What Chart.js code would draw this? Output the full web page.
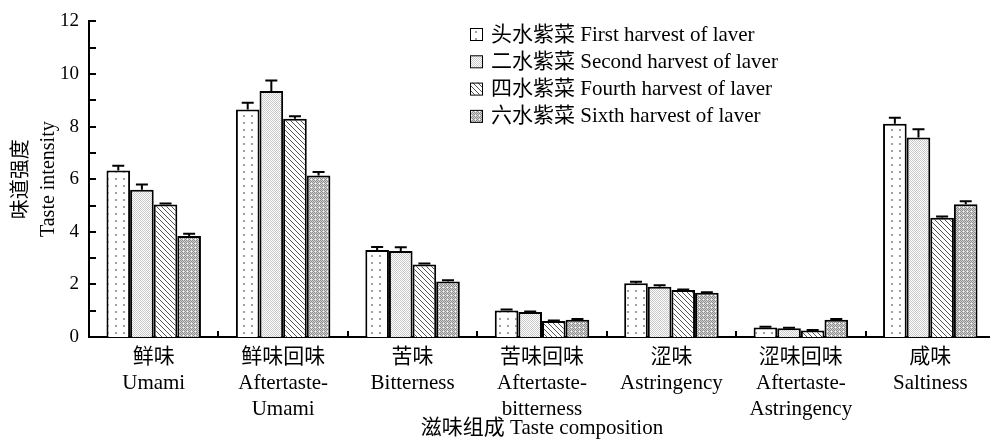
<!DOCTYPE html>
<html>
<head>
<meta charset="utf-8">
<script src="https://cdn.jsdelivr.net/npm/chart.js@4/dist/chart.umd.min.js"></script>
<style>
  html, body { margin: 0; padding: 0; background: #fff; overflow: hidden; }
  #wrap { width: 1000px; height: 441px; }
</style>
</head>
<body>
<div id="wrap"><canvas id="tasteChart" width="1000" height="441"></canvas></div>
<script>
// categories (Chinese / English, multi-line)
const categories = [
  ["鲜味", "Umami"],
  ["鲜味回味", "Aftertaste-", "Umami"],
  ["苦味", "Bitterness"],
  ["苦味回味", "Aftertaste-", "bitterness"],
  ["涩味", "Astringency"],
  ["涩味回味", "Aftertaste-", "Astringency"],
  ["咸味", "Saltiness"]
];
const seriesNames = [
  "头水紫菜 First harvest of laver",
  "二水紫菜 Second harvest of laver",
  "四水紫菜 Fourth harvest of laver",
  "六水紫菜 Sixth harvest of laver"
];
// values
const firstHarvest  = [6.33, 8.65, 3.31, 1.01, 2.04, 0.36, 8.11];
const secondHarvest = [5.60, 9.35, 3.27, 0.95, 1.91, 0.33, 7.59];
const fourthHarvest = [5.04, 8.30, 2.76, 0.61, 1.79, 0.25, 4.53];
const sixthHarvest  = [3.84, 6.14, 2.11, 0.66, 1.68, 0.66, 5.05];
// error bars (upper only)
const firstErr  = [0.18, 0.26, 0.11, 0.04, 0.06, 0.03, 0.23];
const secondErr = [0.20, 0.40, 0.14, 0.02, 0.06, 0.02, 0.31];
const fourthErr = [0.04, 0.09, 0.03, 0.02, 0.02, 0.02, 0.05];
const sixthErr  = [0.09, 0.13, 0.05, 0.02, 0.02, 0.02, 0.11];
const yTicks = [0, 2, 4, 6, 8, 10, 12];

const FONT = "'Liberation Serif', 'Noto Sans CJK SC', serif";

// fill patterns
function makePattern(w, h, draw) {
  const c = document.createElement("canvas");
  c.width = w; c.height = h;
  const g = c.getContext("2d");
  g.fillStyle = "#fff";
  g.fillRect(0, 0, w, h);
  draw(g);
  return document.getElementById("tasteChart").getContext("2d").createPattern(c, "repeat");
}
const dotFill = makePattern(8, 7, g => {
  g.fillStyle = "#a0a0a0";
  g.fillRect(3, 3, 2, 2);
});
const lightCheck = makePattern(2, 2, g => {
  g.fillStyle = "#c8c8c8";
  g.fillRect(0, 0, 1, 1);
  g.fillRect(1, 1, 1, 1);
});
const diagFill = makePattern(5, 5, g => {
  g.fillStyle = "#555";
  for (let i = 0; i < 5; i++) g.fillRect(i, i, 1, 1);
});
const darkCheck = makePattern(4, 4, g => {
  g.fillStyle = "#8c8c8c";
  g.fillRect(0, 0, 1, 1); g.fillRect(2, 0, 1, 1);
  g.fillRect(1, 1, 1, 1); g.fillRect(3, 1, 1, 1);
  g.fillRect(0, 2, 1, 1); g.fillRect(2, 2, 1, 1);
  g.fillRect(1, 3, 1, 1);
  g.fillStyle = "#d4d4d4";
  g.fillRect(1, 0, 1, 1); g.fillRect(3, 0, 1, 1);
  g.fillRect(0, 1, 1, 1); g.fillRect(2, 1, 1, 1);
  g.fillRect(1, 2, 1, 1); g.fillRect(3, 2, 1, 1);
  g.fillRect(0, 3, 1, 1); g.fillRect(2, 3, 1, 1);
});

const seriesValues = [firstHarvest, secondHarvest, fourthHarvest, sixthHarvest];
const seriesErrors = [firstErr, secondErr, fourthErr, sixthErr];
const seriesFills = [dotFill, lightCheck, diagFill, darkCheck];

// error bars, inner ticks and legend
const extras = {
  id: "extras",
  afterDatasetsDraw(chart) {
    const ctx = chart.ctx;
    const ys = chart.scales.y;
    ctx.save();
    ctx.strokeStyle = "#000";
    ctx.lineWidth = 2;
    chart.data.datasets.forEach((ds, di) => {
      const meta = chart.getDatasetMeta(di);
      meta.data.forEach((bar, i) => {
        const err = seriesErrors[di][i];
        const top = ys.getPixelForValue(ds.data[i] + err);
        ctx.beginPath();
        ctx.moveTo(bar.x, bar.y);
        ctx.lineTo(bar.x, top);
        ctx.moveTo(bar.x - 6, top);
        ctx.lineTo(bar.x + 6, top);
        ctx.stroke();
      });
    });
    ctx.restore();
  },
  afterDraw(chart) {
    const ctx = chart.ctx;
    const xs = chart.scales.x, ys = chart.scales.y;
    const area = chart.chartArea;
    ctx.save();
    ctx.strokeStyle = "#000";
    ctx.lineWidth = 2;
    // y ticks, inward
    for (let v = 0; v <= 12; v++) {
      const py = Math.round(ys.getPixelForValue(v));
      ctx.beginPath();
      ctx.moveTo(area.left, py);
      ctx.lineTo(area.left + 7, py);
      ctx.stroke();
    }
    // x ticks at category boundaries, upward
    const step = (area.right - area.left) / categories.length;
    for (let i = 1; i < categories.length; i++) {
      const px = Math.round(xs.getPixelForValue(i) - step / 2);
      ctx.beginPath();
      ctx.moveTo(px, area.bottom);
      ctx.lineTo(px, area.bottom - 6);
      ctx.stroke();
    }
    // legend
    ctx.font = "21px " + FONT;
    ctx.textBaseline = "middle";
    seriesNames.forEach((name, i) => {
      const cy = 34 + i * 27.3;
      ctx.fillStyle = seriesFills[i];
      ctx.fillRect(470, cy - 6, 12, 12);
      ctx.lineWidth = 1;
      ctx.strokeStyle = "#000";
      ctx.strokeRect(470.5, cy - 5.5, 12, 12);
      ctx.fillStyle = "#000";
      ctx.fillText(name, 491, cy + 1);
    });
    ctx.restore();
  }
};

const ctx = document.getElementById("tasteChart").getContext("2d");
const tasteChart = new Chart(ctx, {
  type: "bar",
  data: {
    labels: categories,
    datasets: seriesNames.map((name, i) => ({
      label: name,
      data: seriesValues[i],
      backgroundColor: seriesFills[i],
      borderColor: "#000",
      borderWidth: 2,
      categoryPercentage: 0.73,
      barPercentage: 1.0
    }))
  },
  options: {
    responsive: false,
    animation: false,
    layout: { padding: { left: 0, right: 5, top: 16, bottom: 0 } },
    plugins: {
      legend: { display: false },
      tooltip: { enabled: false }
    },
    scales: {
      x: {
        grid: { display: false, drawTicks: false },
        border: { color: "#000", width: 2 },
        ticks: {
          color: "#000",
          padding: 7,
          maxRotation: 0,
          autoSkip: false,
          font: { family: FONT, size: 21, lineHeight: 1.24 }
        },
        title: {
          display: true,
          text: "滋味组成 Taste composition",
          color: "#000",
          padding: { top: 0, bottom: 0 },
          font: { family: FONT, size: 21, lineHeight: 1.15 }
        },
        afterFit(scale) { scale.height = 104; }
      },
      y: {
        min: 0,
        max: 12,
        grid: { display: false, drawTicks: false },
        border: { color: "#000", width: 2 },
        afterBuildTicks(scale) { scale.ticks = yTicks.map(v => ({ value: v })); },
        ticks: {
          color: "#000",
          padding: 10,
          font: { family: FONT, size: 19 }
        },
        title: {
          display: true,
          text: ["味道强度", "Taste intensity"],
          color: "#000",
          padding: { top: 8, bottom: 0 },
          font: { family: FONT, size: 20, lineHeight: 1.35 }
        },
        afterFit(scale) { scale.width = 89; }
      }
    }
  },
  plugins: [extras]
});
</script>
</body>
</html>
